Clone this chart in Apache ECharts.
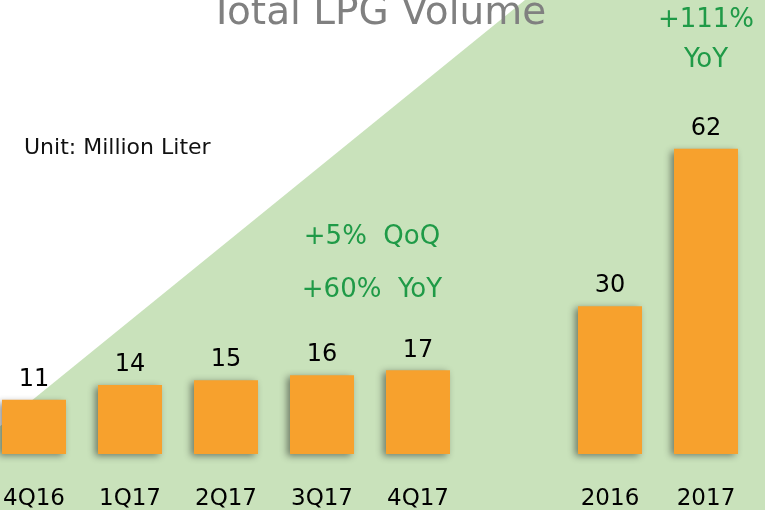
<!DOCTYPE html>
<html>
<head>
<meta charset="utf-8">
<script src="https://cdn.jsdelivr.net/npm/echarts@6/dist/echarts.min.js"></script>
<style>
  html, body { margin:0; padding:0; background:#fff; }
  #myChart { width:765px; height:510px; }
</style>
</head>
<body>
<div id="myChart"></div>
<script>
// periods, the empty slot keeps the gap between quarters and years
var periods = ['4Q16', '1Q17', '2Q17', '3Q17', '4Q17', '', '2016', '2017'];
var volumes = [11, 14, 15, 16, 17, null, 30, 62];

var chartTitle = 'Total LPG Volume';
var unitText = 'Unit: Million Liter';
var quarterNotes = ['+5%  QoQ', '+60%  YoY'];
var yearNotes = ['+111%', 'YoY'];

var font = '"DejaVu Sans", Verdana, sans-serif';
var green = '#1f9a47';

var myChart = echarts.init(document.getElementById('myChart'));
var option = {
  animation: false,
  backgroundColor: '#ffffff',
  grid: { left: -14, right: 11, top: 60, bottom: 56, outerBoundsMode: 'none' },
  //背景和文字
  graphic: [
    {
      type: 'polygon', z: -10, silent: true,
      shape: { points: [[525, 0], [765, 0], [765, 510], [-103, 510]] },
      style: { fill: '#c9e2bb' }
    },
    {
      type: 'text', x: 378, y: -6,
      style: { text: chartTitle, fill: '#808080', font: '39px ' + font, align: 'center' }
    },
    {
      type: 'text', x: 24, y: 148,
      style: { text: unitText, fill: '#111', font: '22px ' + font, verticalAlign: 'middle' }
    },
    {
      type: 'text', x: 372, y: 237,
      style: { text: quarterNotes[0], fill: green, font: '26px ' + font, align: 'center', verticalAlign: 'middle' }
    },
    {
      type: 'text', x: 372, y: 290,
      style: { text: quarterNotes[1], fill: green, font: '26px ' + font, align: 'center', verticalAlign: 'middle' }
    },
    {
      type: 'text', x: 706, y: 20,
      style: { text: yearNotes[0], fill: green, font: '26px ' + font, align: 'center', verticalAlign: 'middle' }
    },
    {
      type: 'text', x: 706, y: 60,
      style: { text: yearNotes[1], fill: green, font: '26px ' + font, align: 'center', verticalAlign: 'middle' }
    }
  ],
  xAxis: {
    type: 'category',
    data: periods,
    axisLine: { show: false },
    axisTick: { show: false },
    axisLabel: { margin: 34, color: '#000', fontSize: 23, fontFamily: font, interval: 0 }
  },
  yAxis: {
    type: 'value', min: 0, max: 80,
    show: false,
    splitLine: { show: false }
  },
  series: [
    {
      type: 'bar',
      data: volumes,
      barWidth: 64,
      itemStyle: {
        color: '#f7a12d',
        shadowColor: 'rgba(0,0,0,0.45)',
        shadowBlur: 7,
        shadowOffsetX: -3,
        shadowOffsetY: 2
      },
      label: {
        show: true, position: 'top', distance: 8,
        color: '#000', fontSize: 24, fontFamily: font
      }
    }
  ]
};
myChart.setOption(option);
</script>
</body>
</html>
